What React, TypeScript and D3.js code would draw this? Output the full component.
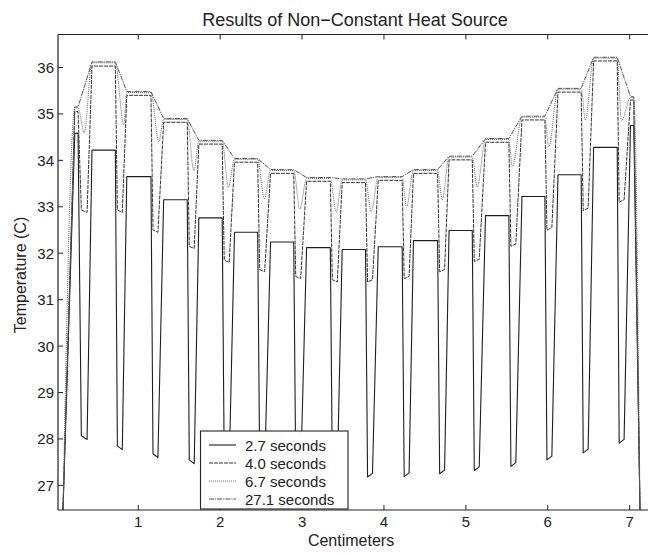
import React from "react";
import * as d3 from "d3";

const W = 648;
const H = 554;

// Plateau (heated element) extents in cm: left partial element, 15 cells, right partial element
const cellStart = [0.225, 0.435, 0.86, 1.31, 1.74, 2.175, 2.615, 3.055, 3.49, 3.93, 4.36, 4.795, 5.24, 5.685, 6.125, 6.56, 7.01];
const cellEnd = [0.265, 0.72, 1.155, 1.598, 2.025, 2.458, 2.898, 3.345, 3.775, 4.222, 4.655, 5.078, 5.525, 5.965, 6.408, 6.848, 7.05];

// Boundary points (both ends fall to the lowest temperature)
const edgeStartX = 0.081;
const edgeEndX = 7.126;
const edgeTemp = 26.47;

// Positions of the narrow cold spikes between elements (cm)
const spikeDropX = [0.305, 0.745, 1.18, 1.623, 2.05, 2.483, 2.923, 3.37, 3.8, 4.247, 4.68, 5.103, 5.55, 5.99, 6.433, 6.872];
const spikeRiseX = [0.375, 0.805, 1.24, 1.683, 2.11, 2.543, 2.983, 3.43, 3.86, 4.307, 4.74, 5.163, 5.61, 6.05, 6.493, 6.932];
// Position of the 6.7 s dip minimum in each gap
const dipX67 = [0.34, 0.823, 1.251, 1.678, 2.1, 2.54, 2.972, 3.417, 3.844, 4.275, 4.711, 5.138, 5.566, 6.012, 6.46, 6.9];

// Plateau temperatures per element (17)
const plateau27 = [34.58, 34.22, 33.65, 33.15, 32.76, 32.45, 32.24, 32.12, 32.08, 32.14, 32.27, 32.49, 32.81, 33.22, 33.69, 34.28, 34.75];
const plateau40 = [35.05, 36.03, 35.4, 34.82, 34.35, 33.96, 33.72, 33.55, 33.52, 33.57, 33.72, 34.01, 34.39, 34.87, 35.47, 36.14, 35.3];
const plateau67 = [35.13, 36.1, 35.46, 34.88, 34.41, 34.02, 33.78, 33.61, 33.58, 33.63, 33.78, 34.07, 34.45, 34.93, 35.53, 36.2, 35.35];
const plateau271 = [35.15, 36.12, 35.48, 34.9, 34.43, 34.04, 33.8, 33.63, 33.6, 33.65, 33.8, 34.09, 34.47, 34.95, 35.55, 36.22, 35.37];

// Gap minima (16 gaps)
const valley27Left = [28.07, 27.85, 27.68, 27.55, 27.45, 27.37, 27.31, 27.27, 27.18, 27.19, 27.25, 27.32, 27.41, 27.55, 27.7, 27.91];
const valley27Right = [27.99, 27.77, 27.6, 27.47, 27.37, 27.29, 27.23, 27.19, 27.26, 27.27, 27.33, 27.4, 27.49, 27.63, 27.78, 27.99];
const valley40Left = [32.93, 32.93, 32.5, 32.15, 31.85, 31.65, 31.5, 31.43, 31.38, 31.45, 31.6, 31.82, 32.15, 32.5, 32.92, 33.1];
const valley40Right = [32.88, 32.88, 32.45, 32.1, 31.8, 31.6, 31.45, 31.38, 31.43, 31.5, 31.65, 31.87, 32.2, 32.55, 32.97, 33.15];
const valley67 = [34.6, 34.76, 34.4, 33.78, 33.42, 33.17, 32.95, 32.88, 32.9, 32.99, 33.15, 33.43, 33.86, 34.29, 34.87, 34.85];

const seriesLabels = ["2.7 seconds", "4.0 seconds", "6.7 seconds", "27.1 seconds"];
const xTicks = [1, 2, 3, 4, 5, 6, 7];
const yTicks = [27, 28, 29, 30, 31, 32, 33, 34, 35, 36];

type Pt = [number, number];

function spikeSeries(plateau: number[], vL: number[], vR: number[]): Pt[] {
  const pts: Pt[] = [[edgeStartX, edgeTemp]];
  for (let k = 0; k < cellStart.length; k++) {
    pts.push([cellStart[k], plateau[k]], [cellEnd[k], plateau[k]]);
    if (k < spikeDropX.length) {
      pts.push([spikeDropX[k], vL[k]], [spikeRiseX[k], vR[k]]);
    }
  }
  pts.push([edgeEndX, edgeTemp]);
  return pts;
}

function dipSeries(plateau: number[], v: number[]): Pt[] {
  const pts: Pt[] = [[edgeStartX, edgeTemp]];
  for (let k = 0; k < cellStart.length; k++) {
    pts.push([cellStart[k], plateau[k]], [cellEnd[k], plateau[k]]);
    if (k < dipX67.length) pts.push([dipX67[k], v[k]]);
  }
  pts.push([edgeEndX, edgeTemp]);
  return pts;
}

function plateauSeries(plateau: number[]): Pt[] {
  const pts: Pt[] = [[edgeStartX, edgeTemp]];
  for (let k = 0; k < cellStart.length; k++) {
    pts.push([cellStart[k], plateau[k]], [cellEnd[k], plateau[k]]);
  }
  pts.push([edgeEndX, edgeTemp]);
  return pts;
}

const FONT = "'Liberation Sans', Arial, Helvetica, sans-serif";

export default function App() {
  const left = 58;
  const right = 652;
  const top = 34.5;
  const bottom = 510;

  const x = d3.scaleLinear().domain([0.02, 0.02 + (right - left) / 81.9]).range([left, right]);
  const y = d3.scaleLinear().domain([26.47, 36.71]).range([bottom, top]);

  const linear = d3.line<Pt>().x((d) => x(d[0])).y((d) => y(d[1]));
  const smooth = d3
    .line<Pt>()
    .x((d) => x(d[0]))
    .y((d) => y(d[1]))
    .curve(d3.curveMonotoneX);

  const styles = [
    { stroke: "#1e1e1e", dash: "none", width: 1.1 },
    { stroke: "#333", dash: "4,1", width: 1.0 },
    { stroke: "#666", dash: "1,1", width: 1.0 },
    { stroke: "#555", dash: "5,1,1.2,1", width: 1.0 },
  ];

  const paths = [
    linear(spikeSeries(plateau27, valley27Left, valley27Right)),
    linear(spikeSeries(plateau40, valley40Left, valley40Right)),
    smooth(dipSeries(plateau67, valley67)),
    linear(plateauSeries(plateau271)),
  ];

  const legend = { x: 200.5, y: 431, w: 147.5, h: 78 };
  const rowY = [445, 463, 481, 499];

  return (
    <svg width={W} height={H} style={{ display: "block", position: "absolute", left: 0, top: 0, background: "#fff" }}>
      <rect x={0} y={0} width={W} height={H} fill="#fff" />
      <text x={355} y={26} textAnchor="middle" fontFamily={FONT} fontSize={18} fill="#222">
        Results of Non−Constant Heat Source
      </text>

      {paths.map((p, i) => (
        <path
          key={i}
          d={p || ""}
          fill="none"
          stroke={styles[i].stroke}
          strokeWidth={styles[i].width}
          strokeDasharray={styles[i].dash}
          strokeLinejoin="round"
        />
      ))}

      {/* frame */}
      <line x1={left} x2={left} y1={top} y2={bottom} stroke="#222" strokeWidth={1.2} />
      <line x1={left} x2={right} y1={bottom} y2={bottom} stroke="#222" strokeWidth={1.2} />
      <line x1={left} x2={right} y1={top} y2={top} stroke="#222" strokeWidth={1.2} />

      {xTicks.map((t) => (
        <g key={"x" + t}>
          <line x1={x(t)} x2={x(t)} y1={bottom} y2={bottom - 5} stroke="#222" />
          <line x1={x(t)} x2={x(t)} y1={top} y2={top + 5} stroke="#222" />
          <text x={x(t)} y={527} textAnchor="middle" fontFamily={FONT} fontSize={15} fill="#222">
            {t}
          </text>
        </g>
      ))}
      {yTicks.map((t) => (
        <g key={"y" + t}>
          <line x1={left} x2={left + 5} y1={y(t)} y2={y(t)} stroke="#222" />
          <text x={54} y={y(t)} textAnchor="end" dominantBaseline="central" fontFamily={FONT} fontSize={15} fill="#222">
            {t}
          </text>
        </g>
      ))}

      <text x={351} y={546} textAnchor="middle" fontFamily={FONT} fontSize={16} fill="#222">
        Centimeters
      </text>
      <text
        transform={`translate(26,275) rotate(-90)`}
        textAnchor="middle"
        fontFamily={FONT}
        fontSize={16}
        fill="#222"
      >
        Temperature (C)
      </text>

      {/* legend */}
      <rect x={legend.x} y={legend.y} width={legend.w} height={legend.h} fill="#fff" stroke="#222" strokeWidth={1.1} />
      {seriesLabels.map((s, i) => (
        <g key={s}>
          <line
            x1={209}
            x2={236}
            y1={rowY[i]}
            y2={rowY[i]}
            stroke={styles[i].stroke}
            strokeWidth={styles[i].width}
            strokeDasharray={styles[i].dash}
          />
          <text x={245} y={rowY[i]} dominantBaseline="central" fontFamily={FONT} fontSize={15} fill="#222">
            {s}
          </text>
        </g>
      ))}
    </svg>
  );
}
